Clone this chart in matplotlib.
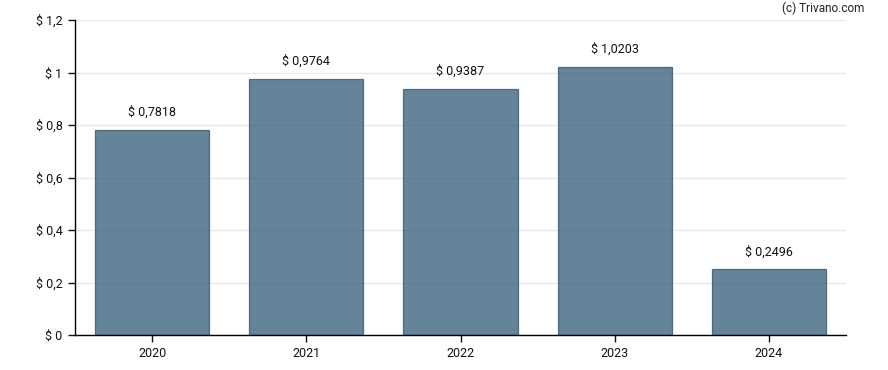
import matplotlib
matplotlib.use("Agg")
import matplotlib.pyplot as plt
from matplotlib.ticker import FuncFormatter

years = ["2020", "2021", "2022", "2023", "2024"]
values = [0.7818, 0.9764, 0.9387, 1.0203, 0.2496]
yticks = [0, 0.2, 0.4, 0.6, 0.8, 1.0, 1.2]

plt.rcParams["font.family"] = ["Roboto", "DejaVu Sans"]


def money(v, pos=None):
    s = f"{v:.4f}".rstrip("0").rstrip(".")
    return "$ " + s.replace(".", ",")


fig = plt.figure(figsize=(8.88, 3.7), dpi=100)
ax = fig.add_axes([75 / 888, 35 / 370, 771 / 888, 315 / 370])

x = list(range(len(years)))
ax.bar(x, values, width=0.74, color="#3f6580", alpha=0.8,
       edgecolor="#36556b", linewidth=0.9, zorder=2)

for xi, v in zip(x, values):
    ax.annotate(money(v), (xi, v), xytext=(0, 8), textcoords="offset points",
                ha="center", va="bottom", fontsize=9, color="#111111")

ax.set_xlim(-0.5, len(years) - 0.5)
ax.set_ylim(0, 1.2)
ax.set_xticks(x)
ax.set_xticklabels(years)
ax.set_yticks(yticks)
ax.yaxis.set_major_formatter(FuncFormatter(money))
ax.tick_params(axis="both", labelsize=9, length=5, width=1, colors="#111111")
ax.tick_params(axis="y", pad=4)

ax.grid(axis="y", color="#e6e6e6", linewidth=0.9, zorder=0)
ax.set_axisbelow(True)
for side in ("top", "right"):
    ax.spines[side].set_visible(False)
for side in ("left", "bottom"):
    ax.spines[side].set_color("black")
    ax.spines[side].set_linewidth(1)

fig.text(864 / 888, 1 - 8 / 370, "(c) Trivano.com", ha="right", va="center",
         fontsize=8.5, color="#222222")

fig.savefig("out.png", dpi=100)
